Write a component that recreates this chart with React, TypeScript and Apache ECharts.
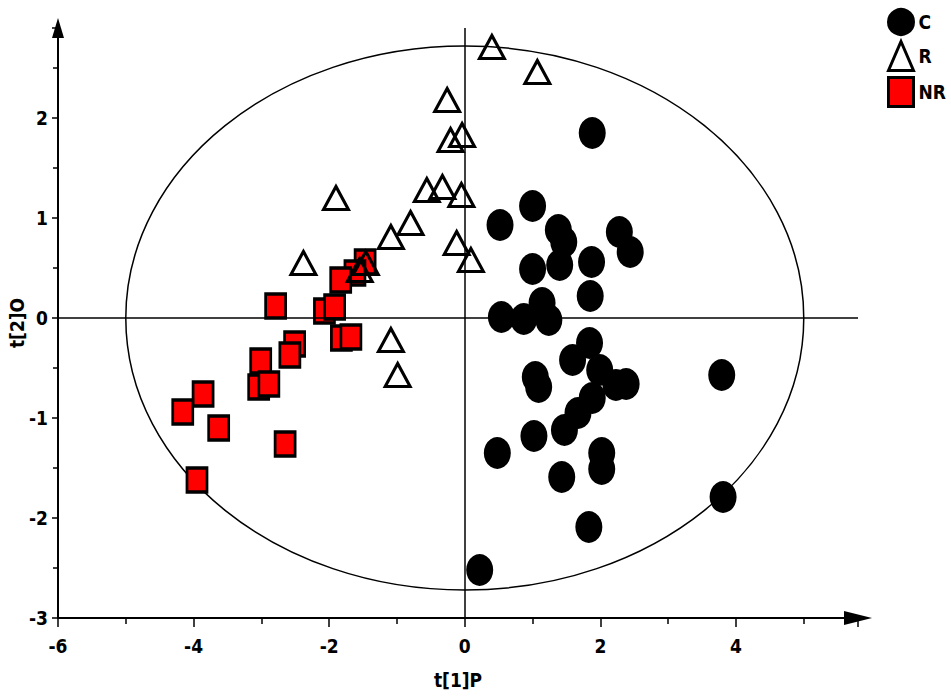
import React, { useEffect, useRef } from "react";
import * as echarts from "echarts";

// OPLS-DA score plot: t[1]P vs t[2]O for groups C, R and NR
const groupC: [number, number][] = [
  [0.52, 0.93], [1.0, 1.12], [1.38, 0.88], [1.46, 0.76], [1.4, 0.53], [1.0, 0.49],
  [1.87, 0.56], [2.28, 0.86], [2.44, 0.66], [1.85, 0.22], [0.54, 0.01], [0.87, -0.01],
  [1.14, 0.15], [1.24, -0.02], [1.84, -0.25], [1.59, -0.42], [1.99, -0.52], [2.23, -0.67],
  [2.38, -0.66], [1.04, -0.59], [1.09, -0.69], [1.88, -0.8], [1.67, -0.95], [1.47, -1.12],
  [1.02, -1.18], [0.48, -1.35], [2.02, -1.35], [2.02, -1.51], [1.43, -1.59], [1.83, -2.09],
  [0.22, -2.52], [1.88, 1.85], [3.79, -0.57], [3.81, -1.79],
];

const groupR: [number, number][] = [
  [0.4, 2.71], [1.07, 2.46], [-0.26, 2.18], [-0.21, 1.78], [-0.04, 1.83], [-0.56, 1.28],
  [-0.33, 1.31], [-0.05, 1.23], [-1.9, 1.2], [-0.8, 0.95], [-1.09, 0.81], [-0.12, 0.75],
  [0.09, 0.58], [-2.38, 0.55], [-1.46, 0.55], [-1.55, 0.48], [-1.09, -0.22], [-0.99, -0.57],
];

const groupNR: [number, number][] = [
  [-1.47, 0.56], [-1.62, 0.45], [-1.83, 0.38], [-2.79, 0.12], [-2.07, 0.07], [-1.92, 0.11],
  [-1.82, -0.2], [-1.68, -0.19], [-2.51, -0.26], [-2.58, -0.37], [-3.01, -0.43], [-3.04, -0.69],
  [-2.89, -0.66], [-3.86, -0.76], [-4.16, -0.94], [-3.63, -1.1], [-2.65, -1.26], [-3.95, -1.62],
];

// Hotelling's T2 confidence ellipse semi-axes
const ellipseAxes: [number, number] = [5.0, 2.72];

const xTicks = [-6, -4, -2, 0, 2, 4];
const yTicks = [-3, -2, -1, 0, 1, 2];

const FONT = "'DejaVu Sans Condensed', 'DejaVu Sans', sans-serif";

export default function App() {
  const ref = useRef<HTMLDivElement>(null);

  useEffect(() => {
    if (!ref.current) return;
    const chart = echarts.init(ref.current, null, { renderer: "svg" });

    const axisLabel = {
      color: "#000",
      fontFamily: FONT,
      fontWeight: "bold" as const,
      fontSize: 19,
    };
    const nameStyle = { color: "#000", fontFamily: FONT, fontWeight: "bold" as const, fontSize: 19 };

    chart.setOption({
      animation: false,
      backgroundColor: "#fff",
      grid: {
        left: 58,
        right: 93,
        top: 28,
        bottom: 78,
        containLabel: false,
        outerBoundsMode: "none",
      },
      legend: {
        orient: "vertical",
        left: 887,
        top: 8,
        padding: 0,
        itemWidth: 25,
        itemHeight: 29,
        itemGap: 4,
        selectedMode: false,
        data: ["C", "R", "NR"],
        itemStyle: { borderWidth: 3 },
        textStyle: { color: "#000", fontFamily: FONT, fontWeight: "bold", fontSize: 19 },
      },
      xAxis: {
        type: "value",
        min: -6,
        max: 5.8,
        interval: 2,
        name: "t[1]P",
        nameLocation: "middle",
        nameGap: 52,
        nameTextStyle: nameStyle,
        axisLine: {
          onZero: false,
          symbol: ["none", "triangle"],
          symbolSize: [14, 28],
          lineStyle: { color: "#000", width: 2 },
        },
        axisTick: { show: true, inside: false, length: 9, lineStyle: { color: "#000", width: 1.5 } },
        minorTick: { show: true, splitNumber: 2, length: 6, lineStyle: { color: "#000", width: 1.5 } },
        splitLine: { show: false },
        axisLabel: {
          ...axisLabel,
          margin: 18,
          formatter: (v: number) => (xTicks.includes(v) ? String(v) : ""),
        },
      },
      yAxis: {
        type: "value",
        min: -3,
        max: 2.9,
        interval: 1,
        name: "t[2]O",
        nameLocation: "middle",
        nameGap: 32,
        nameMoveOverlap: false,
        nameTextStyle: nameStyle,
        axisLine: {
          onZero: false,
          symbol: ["none", "triangle"],
          symbolSize: [12, 20],
          lineStyle: { color: "#000", width: 2 },
        },
        axisTick: { show: true, inside: false, length: 6, lineStyle: { color: "#000", width: 1.5 } },
        minorTick: { show: true, splitNumber: 2, length: 5, lineStyle: { color: "#000", width: 1.5 } },
        splitLine: { show: false },
        axisLabel: {
          ...axisLabel,
          margin: 10,
          formatter: (v: number) => (yTicks.includes(v) ? String(v) : ""),
        },
      },
      series: [
        {
          name: "ellipse",
          type: "custom",
          silent: true,
          z: 1,
          data: [[0, 0]],
          renderItem: (_params: any, api: any) => {
            const c = api.coord([api.value(0), api.value(1)]);
            const s = api.size(ellipseAxes);
            return {
              type: "ellipse",
              shape: { cx: c[0], cy: c[1], rx: s[0], ry: s[1] },
              style: { fill: "none", stroke: "#000", lineWidth: 1.5 },
            };
          },
          markLine: {
            silent: true,
            symbol: ["none", "none"],
            label: { show: false },
            lineStyle: { color: "#000", width: 1.5, type: "solid" },
            data: [{ xAxis: 0 }, { yAxis: 0 }],
          },
        },
        {
          name: "NR",
          type: "scatter",
          z: 3,
          symbol: "rect",
          symbolSize: [20, 24],
          itemStyle: { color: "#ff0000", borderColor: "#000", borderWidth: 3, opacity: 1 },
          data: groupNR,
        },
        {
          name: "R",
          type: "scatter",
          z: 4,
          symbol: "triangle",
          symbolSize: [25, 23],
          itemStyle: { color: "rgba(255,255,255,0)", borderColor: "#000", borderWidth: 3, opacity: 1 },
          data: groupR,
        },
        {
          name: "C",
          type: "scatter",
          z: 3,
          symbol: "circle",
          symbolSize: [27, 32],
          itemStyle: { color: "#000", borderColor: "#000", borderWidth: 0, opacity: 1 },
          data: groupC,
        },
      ],
    });

    return () => chart.dispose();
  }, []);

  return <div ref={ref} style={{ width: 951, height: 696, position: "absolute", left: 0, top: 0 }} />;
}
